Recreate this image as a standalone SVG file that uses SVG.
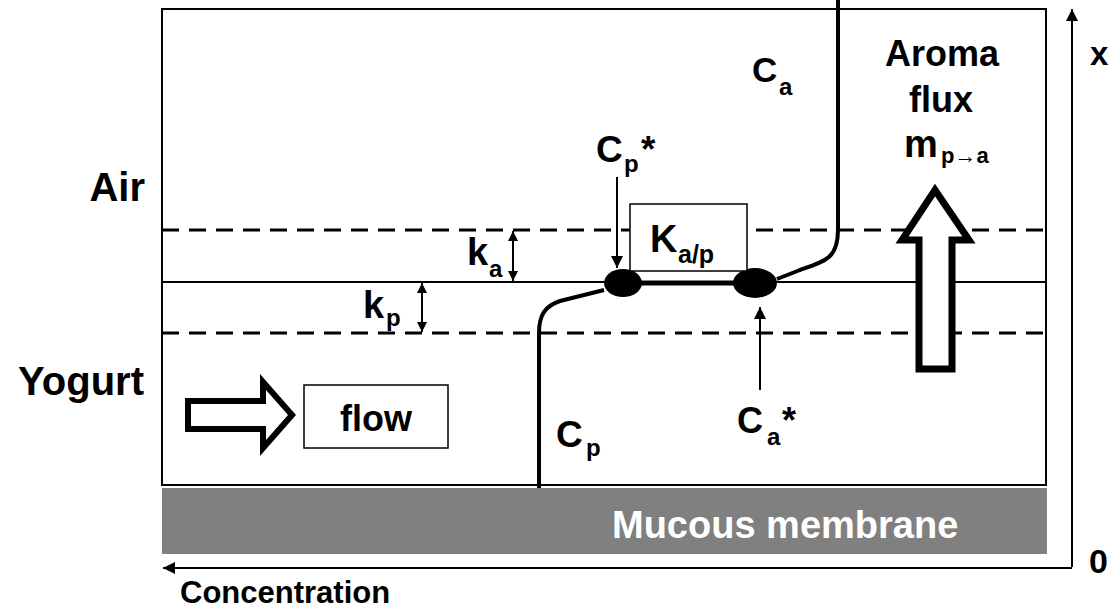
<svg xmlns="http://www.w3.org/2000/svg" width="1114" height="610" viewBox="0 0 1114 610">
<style>
text{font-family:"Liberation Sans",Arial,sans-serif;font-weight:bold;fill:#000}
.thin{stroke:#000;stroke-width:2;fill:none}
.dash{stroke:#000;stroke-width:3;stroke-dasharray:17 10;fill:none}
.prof{stroke:#000;stroke-width:4;fill:none;stroke-linejoin:round}
.ar{stroke:#000;stroke-width:2;fill:none}
.block{fill:#fff;stroke:#000;stroke-linejoin:miter}
.m{font-size:37px}
.s{font-size:24px}
</style>
<defs>
<marker id="ah" viewBox="0 0 12 12" refX="12" refY="6" markerWidth="12" markerHeight="12" markerUnits="userSpaceOnUse" orient="auto-start-reverse">
<path d="M0,0 L12,6 L0,12 Z" fill="#000"/>
</marker>
<marker id="ahs" viewBox="0 0 10 10" refX="10" refY="5" markerWidth="10" markerHeight="10" markerUnits="userSpaceOnUse" orient="auto-start-reverse">
<path d="M0,0 L10,5 L0,10 Z" fill="#000"/>
</marker>
</defs>

<g id="frame">
<rect x="162" y="9" width="884" height="476" fill="#fff" stroke="#000" stroke-width="2"/>
<line class="dash" x1="162" y1="230" x2="1046" y2="230"/>
<line class="thin" x1="162" y1="282" x2="1046" y2="282"/>
<line class="dash" x1="162" y1="333" x2="1046" y2="333"/>
</g>

<g id="mucous-membrane">
<rect x="162" y="488" width="885" height="66" fill="#808080"/>
<text x="612" y="538" style="font-size:38px;fill:#fff">Mucous membrane</text>
</g>

<g id="labels-phases">
<text x="145" y="201" text-anchor="end" style="font-size:40px">Air</text>
<text x="144" y="395" text-anchor="end" style="font-size:40px">Yogurt</text>
</g>

<g id="axes">
<line class="ar" x1="1072" y1="567" x2="1072" y2="9" marker-end="url(#ah)"/>
<line class="ar" x1="1072" y1="568" x2="163" y2="568" marker-end="url(#ah)"/>
<text x="1090" y="65" style="font-size:33px">x</text>
<text x="1089" y="573" style="font-size:34px">0</text>
<text x="180" y="603" style="font-size:31px">Concentration</text>
</g>

<g id="connectors">
<path class="prof" d="M838,0 L838,230 C838,258 826,261 800,270 L777,279"/>
<line x1="623" y1="283" x2="755" y2="283" stroke="#000" stroke-width="5"/>
<path class="prof" d="M604,290 L560,301 C545,306 539,315 539,333 L539,488"/>
<line class="ar" x1="617" y1="177" x2="617" y2="268" marker-end="url(#ah)"/>
<line class="ar" x1="760" y1="390" x2="760" y2="307" marker-end="url(#ah)"/>
<line class="ar" x1="513" y1="231" x2="513" y2="281" marker-start="url(#ahs)" marker-end="url(#ahs)"/>
<line class="ar" x1="422" y1="283" x2="422" y2="332" marker-start="url(#ahs)" marker-end="url(#ahs)"/>
</g>

<g id="interface-points">
<ellipse cx="623" cy="283" rx="19" ry="14" fill="#000"/>
<ellipse cx="755" cy="283" rx="22" ry="15" fill="#000"/>
</g>

<g id="partition-box">
<rect x="630" y="204" width="117" height="67" fill="#fff" stroke="#000" stroke-width="1.5"/>
<text x="650" y="252" style="font-size:38px">K</text>
<text x="678" y="263" style="font-size:25px">a/p</text>
</g>

<g id="label-Ca">
<text x="752" y="82" style="font-size:35px">C</text>
<text x="779" y="95" class="s">a</text>
</g>

<g id="label-Cpstar">
<text x="596" y="162" class="m">C</text>
<text x="624" y="172" class="s">p</text>
<text x="641" y="162" class="m">*</text>
</g>

<g id="label-Castar">
<text x="737" y="433" style="font-size:36px">C</text>
<text x="767" y="445" class="s">a</text>
<text x="782" y="433" style="font-size:36px">*</text>
</g>

<g id="label-Cp">
<text x="556" y="447" class="m">C</text>
<text x="586" y="456" class="s">p</text>
</g>

<g id="label-ka">
<text x="467" y="265" style="font-size:38px">k</text>
<text x="489" y="277" class="s">a</text>
</g>

<g id="label-kp">
<text x="363" y="318" style="font-size:38px">k</text>
<text x="386" y="326" class="s">p</text>
</g>

<g id="flow">
<polygon class="block" stroke-width="6" points="188,401 263,401 263,382 292,415 263,448 263,429 188,429"/>
<rect x="304" y="385" width="144" height="63" fill="#fff" stroke="#000" stroke-width="1.5"/>
<text x="376" y="431" text-anchor="middle" style="font-size:36px">flow</text>
</g>

<g id="aroma-flux">
<polygon class="block" stroke-width="7" points="919,369 919,240 902,240 935,190 969,240 952,240 952,369"/>
<text x="942" y="66" text-anchor="middle" style="font-size:36px">Aroma</text>
<text x="941" y="112" text-anchor="middle" style="font-size:36px">flux</text>
<text x="904" y="157" style="font-size:38px">m</text>
<text x="941" y="163" style="font-size:22px">p→a</text>
</g>
</svg>
